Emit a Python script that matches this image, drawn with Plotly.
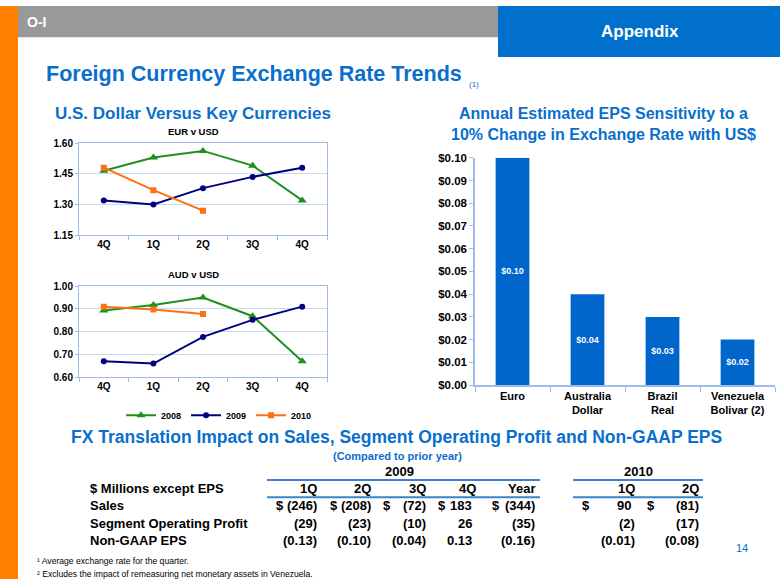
import plotly.graph_objects as go

W, H = 780, 585


def fx(px):
    return px / W


def fy(py):
    return 1 - py / H


# ---------------- data ----------------
quarters = ["4Q", "1Q", "2Q", "3Q", "4Q"]
years = ["2008", "2009", "2010"]

eur_2008 = [1.465, 1.53, 1.562, 1.49, 1.32]
eur_2009 = [1.32, 1.30, 1.38, 1.435, 1.48]
eur_2010 = [1.48, 1.37, 1.27]
eur_ticks = [1.15, 1.30, 1.45, 1.60]

aud_2008 = [0.893, 0.917, 0.95, 0.868, 0.67]
aud_2009 = [0.67, 0.66, 0.777, 0.852, 0.91]
aud_2010 = [0.91, 0.897, 0.878]
aud_ticks = [0.60, 0.70, 0.80, 0.90, 1.00]

currencies = ["Euro", "Australia<br>Dollar", "Brazil<br>Real", "Venezuela<br>Bolivar (2)"]
eps_sensitivity = [0.10, 0.04, 0.03, 0.02]
eps_ticks = [0.00, 0.01, 0.02, 0.03, 0.04, 0.05, 0.06, 0.07, 0.08, 0.09, 0.10]

table_rows = ["Sales", "Segment Operating Profit", "Non-GAAP EPS"]
cols_2009 = ["1Q", "2Q", "3Q", "4Q", "Year"]
sales_2009 = [-246, -208, -72, 183, -344]
sop_2009 = [-29, -23, -10, 26, -35]
eps_2009 = [-0.13, -0.10, -0.04, 0.13, -0.16]
cols_2010 = ["1Q", "2Q"]
sales_2010 = [90, -81]
sop_2010 = [-2, -17]
eps_2010 = [-0.01, -0.08]

# ---------------- styles ----------------
BLUE = "#0A6FCC"
GREEN = "#1F8F1F"
NAVY = "#000080"
ORANGE = "#FF7010"
BAR = "#0066CC"
AXIS = "#9DBDE8"
GRID = "#C9DBF3"
SANS = "Liberation Sans, Arial, sans-serif"
NARROW = "Liberation Sans Narrow, Arial Narrow, Liberation Sans, Arial, sans-serif"

colors = [GREEN, NAVY, ORANGE]
symbols = ["triangle-up", "circle", "square"]
msizes = [8, 6, 6]

fig = go.Figure()

xs = list(range(len(quarters)))
for i, (yr, vals) in enumerate(zip(years, [eur_2008, eur_2009, eur_2010])):
    fig.add_trace(go.Scatter(
        x=xs[:len(vals)], y=vals, name=yr, mode="lines+markers",
        line=dict(color=colors[i], width=2),
        marker=dict(symbol=symbols[i], size=msizes[i], color=colors[i]),
        xaxis="x", yaxis="y", legendgroup=yr, showlegend=True))
for i, (yr, vals) in enumerate(zip(years, [aud_2008, aud_2009, aud_2010])):
    fig.add_trace(go.Scatter(
        x=xs[:len(vals)], y=vals, name=yr, mode="lines+markers",
        line=dict(color=colors[i], width=2),
        marker=dict(symbol=symbols[i], size=msizes[i], color=colors[i]),
        xaxis="x2", yaxis="y2", legendgroup=yr, showlegend=False))

fig.add_trace(go.Bar(
    x=currencies, y=eps_sensitivity, marker=dict(color=BAR, line=dict(width=0)),
    texttemplate="$%{y:.2f}", textposition="inside", insidetextanchor="middle",
    textfont=dict(color="white", size=9, family=SANS, weight="bold"),
    xaxis="x3", yaxis="y3", showlegend=False, width=0.45))

boundaries = [i - 0.5 for i in range(len(quarters) + 1)]
line_x = dict(
    range=[-0.5, len(quarters) - 0.5], tickmode="array", tickvals=xs, ticktext=quarters,
    ticks="", showline=True, mirror=True, linecolor=AXIS, linewidth=1, showgrid=False,
    zeroline=False, tickfont=dict(size=10, family=SANS, color="black", weight="bold"),
    minor=dict(tickvals=boundaries, ticks="outside", ticklen=4, tickcolor=AXIS, showgrid=False),
    fixedrange=True)


def line_y(ticks):
    return dict(
        range=[ticks[0], ticks[-1]], tickmode="array", tickvals=ticks, tickformat=".2f",
        ticks="outside", ticklen=3, tickcolor=AXIS, showline=True, mirror=True,
        linecolor=AXIS, linewidth=1, showgrid=True, gridcolor=GRID, gridwidth=1,
        zeroline=False, tickfont=dict(size=10, family=SANS, color="black", weight="bold"))


fig.update_layout(
    width=W, height=H, margin=dict(l=0, r=0, t=0, b=0),
    paper_bgcolor="white", plot_bgcolor="white",
    xaxis=dict(domain=[fx(79), fx(327)], anchor="y", **line_x),
    yaxis=dict(domain=[fy(234), fy(140)], anchor="x", **line_y(eur_ticks)),
    xaxis2=dict(domain=[fx(79), fx(327)], anchor="y2", **line_x),
    yaxis2=dict(domain=[fy(379), fy(286)], anchor="x2", **line_y(aud_ticks)),
    xaxis3=dict(domain=[fx(475), fx(775)], anchor="y3", type="category",
                tickson="boundaries", ticks="outside", ticklen=5, tickcolor=AXIS,
                showline=True, linecolor=AXIS, linewidth=1.5, showgrid=False,
                tickfont=dict(size=11, family=SANS, color="black", weight="bold")),
    yaxis3=dict(domain=[fy(387), fy(155)], anchor="x3", range=[0, 0.1],
                tickmode="array", tickvals=eps_ticks,
                ticktext=[f"${v:.2f}" for v in eps_ticks],
                ticks="outside", ticklen=4, tickcolor=AXIS, showline=True,
                linecolor=AXIS, linewidth=1.5, showgrid=False, zeroline=False,
                tickfont=dict(size=11.5, family=SANS, color="black", weight="bold")),
    bargap=0.55,
    legend=dict(orientation="h", x=fx(121), y=fy(403), xanchor="left", yanchor="top",
                font=dict(size=9, family=SANS, color="black", weight="bold"),
                itemwidth=30, tracegroupgap=0, bgcolor="rgba(0,0,0,0)"),
    showlegend=True,
)

shapes = []
# slide chrome
shapes.append(dict(type="rect", xref="paper", yref="paper", x0=fx(0), x1=fx(18), y0=0, y1=1,
                   fillcolor="#FF7F00", line=dict(width=0), layer="below"))
shapes.append(dict(type="rect", xref="paper", yref="paper", x0=fx(18), x1=fx(498), y0=fy(32), y1=1,
                   fillcolor="#999999", line=dict(width=0), layer="below"))
shapes.append(dict(type="rect", xref="paper", yref="paper", x0=fx(498), x1=fx(780), y0=fy(52), y1=1,
                   fillcolor="#0070CC", line=dict(width=0), layer="below"))
# table rules
for y in (484, 501.5):
    shapes.append(dict(type="line", xref="paper", yref="paper", x0=fx(267), x1=fx(540), y0=fy(y), y1=fy(y),
                       line=dict(color="#3B82CF", width=2)))
    shapes.append(dict(type="line", xref="paper", yref="paper", x0=fx(573), x1=fx(703), y0=fy(y), y1=fy(y),
                       line=dict(color="#3B82CF", width=2)))

ann = []


def text(x, y, t, size, color="black", bold=True, family=SANS, xanchor="left"):
    ann.append(dict(xref="paper", yref="paper", x=fx(x), y=fy(y), text=t, showarrow=False,
                    xanchor=xanchor, yanchor="middle",
                    font=dict(size=size, color=color, family=family,
                              weight="bold" if bold else "normal")))


text(25, 16, "O-I", 14, "white", family="Liberation Sans, Arial")
text(640, 26, "Appendix", 17, "white", family=NARROW, xanchor="center")
text(44, 69, "Foreign Currency Exchange Rate Trends", 21.5, BLUE)
text(467, 80, "(1)", 8, BLUE, bold=False)
text(53, 110, "U.S. Dollar Versus Key Currencies", 17, BLUE)
text(193, 128, "EUR v USD", 9.5, "black", xanchor="center")
text(193, 274, "AUD v USD", 9.5, "black", xanchor="center")
text(603, 110, "Annual Estimated EPS Sensitivity to a", 16, BLUE, xanchor="center")
text(603, 131, "10% Change in Exchange Rate with US$", 16, BLUE, xanchor="center")
text(396, 440, "FX Translation Impact on Sales, Segment Operating Profit and Non-GAAP EPS", 17.5, BLUE,
     family=NARROW, xanchor="center")
text(397, 459, "(Compared to prior year)", 11, BLUE, family=NARROW, xanchor="center")
text(742, 553, "14", 11, BLUE, bold=False, family=NARROW, xanchor="center")
text(35, 567, "¹ Average exchange rate for the quarter.", 8.6, "black", bold=False, family=NARROW)
text(35, 580, "² Excludes the impact of remeasuring net monetary assets in Venezuela.", 8.6, "black",
     bold=False, family=NARROW)

# ---------------- table ----------------
TS = 13
text(400, 475, "2009", TS, family=NARROW, xanchor="center")
text(638, 475, "2010", TS, family=NARROW, xanchor="center")
text(88, 493, "$ Millions except EPS", TS, family=NARROW)
row_y = [510, 528, 546]
for i, r in enumerate(table_rows):
    text(88, row_y[i], r, TS, family=NARROW)

right_2009 = [319, 373, 428, 478, 537]
right_2010 = [637, 701]
dollar_2009 = [274, 328, 381, 436, 490]
dollar_2010 = [580, 645]


def fmt(v, d):
    s = f"{abs(v):.{d}f}"
    return f"({s})" if v < 0 else s


def put_block(cols, rights, dollars, sales, sop, eps):
    for j, c in enumerate(cols):
        text(rights[j], 493, c, TS, family=NARROW, xanchor="right")
        text(dollars[j], 510, "$", TS, family=NARROW)
        for k, (vals, d) in enumerate([(sales, 0), (sop, 0), (eps, 2)]):
            v = vals[j]
            xr = rights[j] if v < 0 else rights[j] - 4
            text(xr, row_y[k], fmt(v, d), TS, family=NARROW, xanchor="right")


put_block(cols_2009, right_2009, dollar_2009, sales_2009, sop_2009, eps_2009)
put_block(cols_2010, right_2010, dollar_2010, sales_2010, sop_2010, eps_2010)

fig.update_layout(shapes=shapes, annotations=ann)
fig.write_html(
    "out.html",
    config={"displayModeBar": False},
    post_script=(
        "document.documentElement.style.margin='0';"
        "document.body.style.margin='0';document.body.style.padding='0';"
        "document.documentElement.style.overflow='hidden';"
        "var gd=document.getElementById('{plot_id}');"
        "gd.style.position='fixed';gd.style.top='0px';gd.style.left='0px';"
    ),
)
